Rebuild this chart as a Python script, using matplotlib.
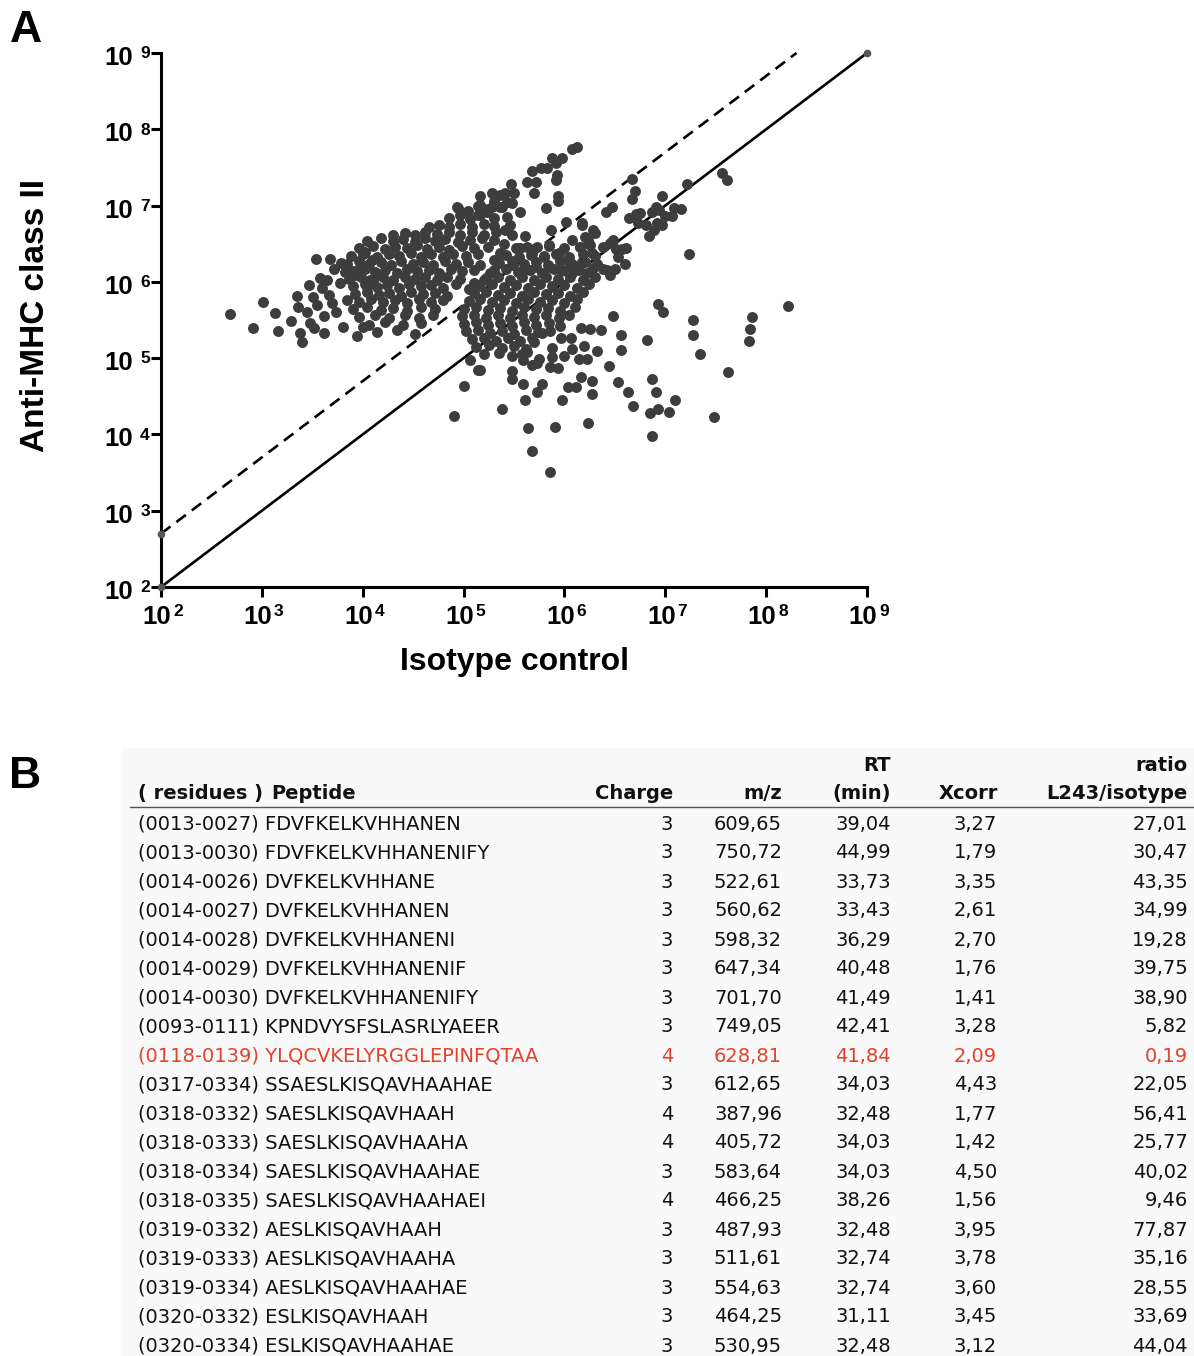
import numpy as np
import matplotlib
matplotlib.use("Agg")
import matplotlib.pyplot as plt
from matplotlib.ticker import FixedLocator, NullLocator, NullFormatter

plt.rcParams['font.family'] = ['Liberation Sans', 'DejaVu Sans']

# ---------------- panel A data (log10 of signal) ----------------
# upper cluster (well above the 5x line)
upper = [
    (4.94,6.97),(5.04,6.93),(5.14,6.99),(5.24,6.95),(5.36,6.98),
    (4.86,6.84),(4.96,6.88),(5.06,6.82),(5.16,6.88),(5.30,6.84),
    (4.66,6.72),(4.76,6.75),(4.86,6.72),(4.96,6.76),(5.08,6.72),(5.20,6.76),(5.30,6.73),
    (4.30,6.61),(4.42,6.64),(4.52,6.62),(4.62,6.66),(4.74,6.63),(4.86,6.66),(4.96,6.62),(5.08,6.65),(5.20,6.62),(5.32,6.66),
    (4.04,6.54),(4.18,6.57),(4.30,6.53),(4.40,6.56),(4.52,6.52),(4.62,6.57),(4.72,6.54),(4.82,6.56),(4.94,6.52),(5.06,6.55),(5.18,6.58),
    (3.96,6.44),(4.10,6.47),(4.22,6.43),(4.32,6.46),(4.44,6.44),(4.54,6.48),(4.64,6.43),(4.76,6.46),(4.86,6.42),(4.98,6.47),(5.10,6.44),(5.24,6.46),
    (3.88,6.34),(4.00,6.37),(4.14,6.33),(4.26,6.36),(4.36,6.34),(4.48,6.38),(4.58,6.33),(4.68,6.36),(4.80,6.32),(4.90,6.37),(5.02,6.34),(5.14,6.36),
    (3.84,6.24),(3.96,6.27),(4.06,6.23),(4.18,6.26),(4.28,6.22),(4.38,6.27),(4.50,6.24),(4.60,6.26),(4.70,6.22),(4.82,6.27),(4.92,6.24),(5.04,6.26),(5.16,6.22),
    (3.90,6.14),(4.02,6.17),(4.12,6.13),(4.22,6.16),(4.34,6.12),(4.44,6.17),(4.54,6.14),(4.66,6.16),(4.76,6.12),(4.88,6.17),(4.98,6.14),(5.10,6.16),
    (3.86,6.04),(3.98,6.07),(4.10,6.03),(4.20,6.06),(4.30,6.02),(4.42,6.07),(4.52,6.04),(4.62,6.06),(4.74,6.02),(4.84,6.07),(4.96,6.04),
    (3.90,5.94),(4.02,5.97),(4.14,5.93),(4.24,5.96),(4.36,5.92),(4.46,5.97),(4.58,5.94),(4.68,5.96),(4.80,5.92),(4.92,5.97),
    (3.92,5.84),(4.04,5.87),(4.16,5.83),(4.26,5.86),(4.38,5.82),(4.48,5.87),(4.60,5.84),(4.72,5.86),(4.84,5.82),
    (3.96,5.74),(4.08,5.77),(4.20,5.73),(4.32,5.76),(4.44,5.72),(4.56,5.77),(4.68,5.74),(4.80,5.76),
    (3.90,5.64),(4.04,5.67),(4.18,5.63),(4.30,5.66),(4.44,5.62),(4.58,5.67),(4.72,5.64),
    (3.96,5.54),(4.12,5.57),(4.26,5.53),(4.42,5.56),(4.56,5.52),(4.70,5.57),
    (4.06,5.44),(4.22,5.47),(4.40,5.43),(4.58,5.46),
    (4.14,5.34),(4.34,5.37),(4.52,5.32),
    (3.55,5.70),(3.62,5.55),(3.70,5.72),(3.58,6.05),(3.68,6.30),(3.78,6.25),(3.52,5.40),(3.45,5.60),
    (5.30,6.55),(5.40,6.50),(5.36,6.38),(5.48,6.62),(5.52,6.45),(5.30,6.28),(5.26,6.12),(5.20,6.02),(5.10,5.98),(5.05,5.90),
]

# sparse left tail of the upper cluster
tail = [
    (2.68,5.58),(2.91,5.39),(3.01,5.74),(3.13,5.59),(3.16,5.36),(3.29,5.49),(3.35,5.81),(3.36,5.67),
    (3.38,5.33),(3.40,5.21),(3.47,5.96),(3.48,5.46),(3.54,6.30),(3.51,5.80),(3.60,5.92),(3.62,5.33),
    (3.65,6.02),(3.67,5.83),(3.72,6.17),(3.74,5.60),(3.77,5.98),(3.82,6.13),(3.80,5.41),(3.84,5.76),
    (3.92,6.09),(3.94,5.29),(3.97,6.19),(4.02,6.39),(4.00,5.41),(4.04,5.93),(4.07,6.02),(4.09,6.29),
]

# upper arm reaching towards 10^8
arm = [
    (6.12,7.77),(6.08,7.74),(5.98,7.62),(5.88,7.62),(5.92,7.56),(5.83,7.49),(5.77,7.49),(5.68,7.45),
    (5.93,7.40),(5.92,7.33),(5.72,7.31),(5.63,7.31),(5.47,7.28),(5.70,7.16),(5.94,7.12),(5.94,7.06),
    (5.82,6.97),(5.50,7.16),(5.41,7.16),(5.36,7.14),(5.28,7.16),(5.16,7.12),(5.43,7.05),(5.48,7.03),
    (5.56,6.92),(5.38,6.98),(5.30,7.06),(5.28,6.98),(5.16,7.01),(5.23,6.92),(4.93,6.98),(5.03,6.92),
    (5.14,6.88),(5.43,6.85),(5.46,6.74),(5.41,6.68),(5.61,6.60),(5.87,6.68),(6.02,6.78),(6.17,6.74),
    (6.08,6.55),(6.15,6.46),(6.25,6.48),(6.27,6.38),(5.85,6.48),(5.73,6.46),(5.63,6.46),(5.56,6.44),
    (5.67,6.35),(5.80,6.33),(5.95,6.38),(6.05,6.26),(6.17,6.26),(6.28,6.18),(6.22,6.12),(6.08,6.12),
    (5.98,6.16),(5.85,6.20),(5.72,6.20),(5.60,6.16),(5.49,6.22),
]

# lower cluster (around the identity line)
lower = [
    (5.55,6.45),(5.70,6.43),(5.85,6.47),(6.00,6.44),(6.15,6.46),
    (5.42,6.35),(5.55,6.33),(5.68,6.37),(5.80,6.34),(5.92,6.36),(6.05,6.33),(6.18,6.37),(6.30,6.34),
    (5.35,6.25),(5.48,6.27),(5.60,6.23),(5.72,6.26),(5.84,6.22),(5.96,6.27),(6.08,6.24),(6.20,6.26),(6.32,6.23),
    (5.30,6.15),(5.42,6.17),(5.54,6.13),(5.66,6.16),(5.78,6.12),(5.90,6.17),(6.02,6.14),(6.14,6.16),(6.26,6.13),(6.38,6.17),
    (5.22,6.05),(5.34,6.07),(5.46,6.03),(5.58,6.06),(5.70,6.02),(5.82,6.07),(5.94,6.04),(6.06,6.06),(6.18,6.02),(6.30,6.07),
    (5.15,5.95),(5.28,5.97),(5.40,5.93),(5.52,5.96),(5.64,5.92),(5.76,5.97),(5.88,5.94),(6.00,5.96),(6.12,5.92),(6.24,5.97),
    (5.10,5.85),(5.22,5.87),(5.34,5.83),(5.46,5.86),(5.58,5.82),(5.70,5.87),(5.82,5.84),(5.94,5.86),(6.06,5.82),(6.18,5.87),
    (5.05,5.75),(5.16,5.77),(5.28,5.73),(5.40,5.76),(5.52,5.72),(5.64,5.77),(5.76,5.74),(5.88,5.76),(6.00,5.72),(6.12,5.77),
    (5.00,5.65),(5.12,5.67),(5.24,5.63),(5.36,5.66),(5.48,5.62),(5.60,5.67),(5.72,5.64),(5.84,5.66),(5.96,5.62),(6.10,5.67),
    (4.98,5.55),(5.10,5.57),(5.22,5.53),(5.34,5.56),(5.46,5.52),(5.58,5.57),(5.70,5.54),(5.82,5.56),(5.95,5.52),(6.05,5.57),
    (5.00,5.45),(5.12,5.47),(5.24,5.43),(5.36,5.46),(5.48,5.42),(5.60,5.47),(5.72,5.44),(5.85,5.46),(5.96,5.42),
    (5.02,5.35),(5.14,5.37),(5.26,5.33),(5.38,5.36),(5.50,5.32),(5.62,5.37),(5.74,5.34),(5.86,5.36),
    (5.08,5.25),(5.20,5.27),(5.32,5.23),(5.44,5.26),(5.56,5.22),(5.68,5.27),
    (5.12,5.15),(5.25,5.17),(5.38,5.13),(5.50,5.16),(5.62,5.12),
    (5.20,5.05),(5.35,5.07),(5.48,5.03),(5.58,5.06),
    (5.06,4.98),(5.16,4.84),
]

# band along the identity line up to 10^7.5
diag = [
    (7.56,7.43),(7.61,7.33),(7.22,7.28),(6.97,7.12),(6.91,6.98),(6.87,6.92),(6.94,6.94),(7.09,6.97),
    (7.16,6.95),(7.07,6.86),(7.00,6.86),(6.97,6.74),(6.92,6.77),(6.89,6.68),(6.84,6.60),(6.81,6.74),
    (6.75,6.90),(6.71,6.89),(6.64,6.84),(6.73,6.77),(6.67,7.09),(6.70,7.19),(6.67,7.35),(6.47,6.98),
    (6.41,6.92),(6.17,6.77),(6.28,6.68),(6.30,6.64),(6.20,6.59),(6.23,6.55),(6.48,6.55),(6.45,6.51),
    (6.38,6.46),(6.51,6.43),(6.61,6.44),(6.57,6.43),(6.53,6.33),(6.60,6.23),(6.50,6.17),(6.45,6.09),
    (6.42,6.16),
]

# scattered points below the identity line
sparse = [
    (5.00,4.63),(4.91,4.24),(5.38,4.33),(5.14,4.84),(5.48,4.73),(5.48,4.83),(5.59,4.66),(5.61,4.45),
    (5.64,4.08),(5.68,3.78),(5.73,4.56),(5.78,4.66),(5.86,3.51),(5.91,4.10),(5.86,4.88),(5.94,4.87),
    (5.98,4.45),(6.04,4.62),(6.11,4.62),(6.16,4.75),(6.23,4.15),(6.27,4.53),(6.27,4.70),(6.00,5.03),
    (6.14,4.99),(6.22,4.99),(6.19,5.16),(6.08,5.12),(5.88,5.01),(5.88,5.13),(5.97,5.26),(6.07,5.26),
    (6.16,5.39),(6.25,5.38),(6.36,5.37),(6.32,5.09),(6.44,4.90),(6.53,4.69),(6.63,4.56),(6.68,4.37),
    (6.85,4.28),(6.87,3.98),(6.87,4.73),(6.91,4.56),(6.93,4.33),(6.56,5.11),(6.56,5.30),(6.48,5.55),
    (6.82,5.24),(6.93,5.71),(5.59,4.98),(5.68,4.91),(5.63,5.08),(5.75,4.99),(5.70,5.21),(5.78,5.33),
    (5.73,4.94),(7.24,6.36),(6.98,5.60),(7.27,5.50),(7.27,5.30),(7.86,5.54),(7.84,5.38),(7.83,5.22),
    (8.22,5.68),(7.34,5.05),(7.62,4.82),(7.48,4.23),(7.10,4.45),(7.04,4.29),
]

decades = [2, 3, 4, 5, 6, 7, 8, 9]

# ---------------- panel B data ----------------
residues = ["(0013-0027)", "(0013-0030)", "(0014-0026)", "(0014-0027)", "(0014-0028)",
            "(0014-0029)", "(0014-0030)", "(0093-0111)", "(0118-0139)", "(0317-0334)",
            "(0318-0332)", "(0318-0333)", "(0318-0334)", "(0318-0335)", "(0319-0332)",
            "(0319-0333)", "(0319-0334)", "(0320-0332)", "(0320-0334)"]
peptides = ["FDVFKELKVHHANEN", "FDVFKELKVHHANENIFY", "DVFKELKVHHANE", "DVFKELKVHHANEN",
            "DVFKELKVHHANENI", "DVFKELKVHHANENIF", "DVFKELKVHHANENIFY", "KPNDVYSFSLASRLYAEER",
            "YLQCVKELYRGGLEPINFQTAA", "SSAESLKISQAVHAAHAE", "SAESLKISQAVHAAH", "SAESLKISQAVHAAHA",
            "SAESLKISQAVHAAHAE", "SAESLKISQAVHAAHAEI", "AESLKISQAVHAAH", "AESLKISQAVHAAHA",
            "AESLKISQAVHAAHAE", "ESLKISQAVHAAH", "ESLKISQAVHAAHAE"]
charge = [3, 3, 3, 3, 3, 3, 3, 3, 4, 3, 4, 4, 3, 4, 3, 3, 3, 3, 3]
mz = [609.65, 750.72, 522.61, 560.62, 598.32, 647.34, 701.70, 749.05, 628.81, 612.65,
      387.96, 405.72, 583.64, 466.25, 487.93, 511.61, 554.63, 464.25, 530.95]
rt = [39.04, 44.99, 33.73, 33.43, 36.29, 40.48, 41.49, 42.41, 41.84, 34.03,
      32.48, 34.03, 34.03, 38.26, 32.48, 32.74, 32.74, 31.11, 32.48]
xcorr = [3.27, 1.79, 3.35, 2.61, 2.70, 1.76, 1.41, 3.28, 2.09, 4.43,
         1.77, 1.42, 4.50, 1.56, 3.95, 3.78, 3.60, 3.45, 3.12]
ratio = [27.01, 30.47, 43.35, 34.99, 19.28, 39.75, 38.90, 5.82, 0.19, 22.05,
         56.41, 25.77, 40.02, 9.46, 77.87, 35.16, 28.55, 33.69, 44.04]
highlight = "(0118-0139)"

W, H = 1194, 1356
fig = plt.figure(figsize=(W / 100, H / 100), dpi=100)

# ---------------- panel A ----------------
ax = fig.add_axes([161 / W, 1 - 587 / H, 706 / W, 534 / H])
dot = '#3d3d3d'
for pts in [tail, upper, arm, lower, diag, sparse]:
    p = np.array(pts)
    ax.scatter(10 ** p[:, 0], 10 ** p[:, 1], s=62, color=dot, linewidths=0, zorder=3)

ax.plot([1e2, 1e9], [1e2, 1e9], color='k', lw=1.9, zorder=2, clip_on=False)
ax.plot([1e2, 2e8], [5e2, 1e9], color='k', lw=1.9, ls=(0, (4.5, 2.8)), zorder=2, clip_on=False)
ax.plot([1e2, 1e2, 1e9], [1e2, 5e2, 1e9], ls='none', marker='o', ms=4.5, color='#555555',
        zorder=4, clip_on=False)

ax.set_xscale('log')
ax.set_yscale('log')
ax.set_xlim(1e2, 1e9)
ax.set_ylim(1e2, 1e9)
ticks = [10.0 ** d for d in decades]
for a in (ax.xaxis, ax.yaxis):
    a.set_major_locator(FixedLocator(ticks))
    a.set_minor_locator(NullLocator())
    a.set_major_formatter(NullFormatter())
for s in ['top', 'right']:
    ax.spines[s].set_visible(False)
for s in ['left', 'bottom']:
    ax.spines[s].set_linewidth(2.2)
ax.tick_params(axis='both', which='major', direction='out', length=7, width=2.2)

# tick labels drawn as "10" with a raised exponent
big = dict(fontsize=18.5, fontweight='bold', annotation_clip=False)
small = dict(fontsize=12.5, fontweight='bold', annotation_clip=False)
for d in decades:
    v = 10.0 ** d
    ax.annotate('10', xy=(0, v), xycoords=('axes fraction', 'data'), xytext=(-20.5, -8.6),
                textcoords='offset points', ha='right', va='baseline', **big)
    ax.annotate(str(d), xy=(0, v), xycoords=('axes fraction', 'data'), xytext=(-15, -3.8),
                textcoords='offset points', ha='left', va='baseline', **small)
    ax.annotate('10', xy=(v, 0), xycoords=('data', 'axes fraction'), xytext=(7.4, -26.8),
                textcoords='offset points', ha='right', va='baseline', **big)
    ax.annotate(str(d), xy=(v, 0), xycoords=('data', 'axes fraction'), xytext=(8.8, -20.8),
                textcoords='offset points', ha='left', va='baseline', **small)

fig.text(515 / W, 1 - 662 / H, 'Isotype control', fontsize=23, fontweight='bold',
         ha='center', va='center')
fig.text(36 / W, 1 - 316 / H, 'Anti-MHC class II', fontsize=24, fontweight='bold',
         ha='center', va='center', rotation=90)

fig.text(10 / W, 1 - 42 / H, 'A', fontsize=32, fontweight='bold', va='baseline')
fig.text(9 / W, 1 - 788 / H, 'B', fontsize=32, fontweight='bold', va='baseline')

# ---------------- panel B ----------------
fig.patches.append(plt.Rectangle((122 / W, 0), 1 - 122 / W, 1 - 748 / H,
                                 transform=fig.transFigure, color='#f9f9f9', zorder=0))

tf = 'DejaVu Sans'
def fy(y):
    return 1 - y / H

def comma(v):
    return f"{v:.2f}".replace('.', ',')

hdr = dict(family=tf, fontsize=14, fontweight='bold', va='baseline', color='#111111')
fig.text(138 / W, fy(799), '( residues )', ha='left', **hdr)
fig.text(271 / W, fy(799), 'Peptide', ha='left', **hdr)
fig.text(673 / W, fy(799), 'Charge', ha='right', **hdr)
fig.text(782 / W, fy(799), 'm/z', ha='right', **hdr)
fig.text(891 / W, fy(771), 'RT', ha='right', **hdr)
fig.text(891 / W, fy(799), '(min)', ha='right', **hdr)
fig.text(998 / W, fy(799), 'Xcorr', ha='right', **hdr)
fig.text(1188 / W, fy(771), 'ratio', ha='right', **hdr)
fig.text(1188 / W, fy(799), 'L243/isotype', ha='right', **hdr)
fig.add_artist(plt.Line2D([130 / W, 1193 / W], [fy(806.5), fy(806.5)], color='#555555', lw=1.0,
                          transform=fig.transFigure))

for i in range(len(residues)):
    yb = fy(829.5 + 29 * i)
    c = '#e4412b' if residues[i] == highlight else '#111111'
    kw = dict(family=tf, fontsize=14, va='baseline', color=c)
    fig.text(138 / W, yb, residues[i] + ' ' + peptides[i], ha='left', **kw)
    fig.text(673 / W, yb, str(charge[i]), ha='right', **kw)
    fig.text(782 / W, yb, comma(mz[i]), ha='right', **kw)
    fig.text(891 / W, yb, comma(rt[i]), ha='right', **kw)
    fig.text(997 / W, yb, comma(xcorr[i]), ha='right', **kw)
    fig.text(1188 / W, yb, comma(ratio[i]), ha='right', **kw)

fig.savefig('out.png', dpi=100)
